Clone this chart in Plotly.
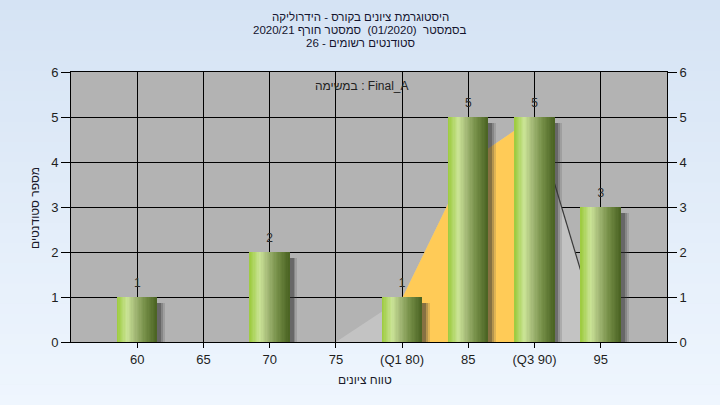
import plotly.graph_objects as go

# ---------------- data ----------------
tick_labels = ["60", "65", "70", "75", "(Q1 80)", "85", "(Q3 90)", "95"]
counts = [1, 0, 2, 0, 1, 5, 5, 3]
# distribution curve drawn behind the bars (categories 75..95)
curve_labels = ["75", "(Q1 80)", "85", "(Q3 90)", "95"]
curve_values = [0, 0.97, 4.0, 5.0, 0.1]
# inter-quartile part of the curve (Q1..Q3)
iqr_labels = ["(Q1 80)", "85", "(Q3 90)"]
iqr_values = [0.97, 4.0, 5.0]

title_lines = [
    "\u202bהיסטוגרמת ציונים בקורס - הידרוליקה\u202c",
    "\u202bבסמסטר  (01/2020)  סמסטר חורף 2020/21\u202c",
    "\u202bסטודנטים רשומים - 26\u202c",
]
subtitle = "במשימה : Final_A"
x_title = "טווח ציונים"
y_title = "מספר סטודנטים"

# ---------------- helpers ----------------
pos = {lab: i for i, lab in enumerate(tick_labels)}
xs = [pos[l] for l in tick_labels]
cx = [pos[l] for l in curve_labels]
ix = [pos[l] for l in iqr_labels]

FONT = "Liberation Sans, DejaVu Sans, Arial, sans-serif"
W, H = 720, 405
L, R, T, B = 71, 53, 72, 63
PW, PH = W - L - R, H - T - B


def hex2rgb(h):
    h = h.lstrip("#")
    return tuple(int(h[i:i + 2], 16) for i in (0, 2, 4))


def lerp_color(stops, t):
    for (t0, c0), (t1, c1) in zip(stops, stops[1:]):
        if t0 <= t <= t1:
            f = 0 if t1 == t0 else (t - t0) / (t1 - t0)
            a, b = hex2rgb(c0), hex2rgb(c1)
            return "rgb(%d,%d,%d)" % tuple(round(a[k] + (b[k] - a[k]) * f) for k in range(3))
    return stops[-1][1]


fig = go.Figure()

# background area curve (main subplot, under the bars)
fig.add_trace(go.Scatter(x=cx, y=curve_values, mode="lines", fill="tozeroy",
                         fillcolor="#c3c3c3", line=dict(width=0, color="#c3c3c3"),
                         hoverinfo="skip", showlegend=False))
fig.add_trace(go.Scatter(x=ix, y=iqr_values, mode="lines", fill="tozeroy",
                         fillcolor="#ffcb57", line=dict(width=0, color="#ffcb57"),
                         hoverinfo="skip", showlegend=False))
fig.add_trace(go.Scatter(x=cx[-2:], y=curve_values[-2:], mode="lines",
                         line=dict(width=1.2, color="#3a3a3a"),
                         hoverinfo="skip", showlegend=False))

# bars on overlaid axis (drawn above the curve)
BW = 0.6
shadow_counts = [max(c - 0.13, 0) for c in counts]
shadow_layers = [(0.12, "rgba(70,70,70,0.18)"), (0.09, "rgba(60,60,60,0.25)"),
                 (0.06, "rgba(45,45,45,0.35)")]
for off, col in shadow_layers:
    fig.add_trace(go.Bar(x=xs, y=shadow_counts, width=BW, offset=-BW / 2 + off,
                         marker=dict(color=col, line=dict(width=0)),
                         yaxis="y2", hoverinfo="skip", showlegend=False))

stops = [(0.0, "#9ccb3c"), (0.08, "#a9d257"), (0.26, "#cbe497"),
         (0.45, "#a5ba78"), (0.7, "#768f48"), (1.0, "#4a6322")]
N = 30
sw = BW / N
for k in range(N):
    t = (k + 0.5) / N
    fig.add_trace(go.Bar(x=xs, y=counts, width=sw * 1.15, offset=-BW / 2 + k * sw,
                         marker=dict(color=lerp_color(stops, t), line=dict(width=0)),
                         yaxis="y2", hoverinfo="skip", showlegend=False))

# value labels
fig.add_trace(go.Scatter(x=xs, y=counts, mode="markers+text",
                         marker=dict(size=10, opacity=0),
                         text=[str(c) if c else "" for c in counts],
                         textposition="top center",
                         textfont=dict(family=FONT, size=12, color="#2a2a2a"),
                         yaxis="y2", hoverinfo="skip", showlegend=False, cliponaxis=False))

# ---------------- background gradient ----------------
shapes = []
NB = 40
top_c, bot_c = "#d5e3f4", "#eff6fe"
y_lo, y_hi = -B / PH, 1 + T / PH
for k in range(NB):
    y0 = y_lo + (y_hi - y_lo) * k / NB
    y1 = y_lo + (y_hi - y_lo) * (k + 1) / NB + 0.002
    col = lerp_color([(0, bot_c), (1, top_c)], (k + 0.5) / NB)
    shapes.append(dict(type="rect", xref="paper", yref="paper", x0=-L / PW - 0.05,
                       x1=1 + R / PW + 0.05, y0=y0, y1=y1, layer="below",
                       line=dict(width=0), fillcolor=col))
shapes.append(dict(type="rect", xref="paper", yref="paper", x0=0, x1=1, y0=0, y1=1,
                   layer="below", line=dict(width=0), fillcolor="#b3b3b3"))

# ---------------- annotations ----------------
ann = []
for i, line in enumerate(title_lines):
    ypix = 17 + 13 * i
    ann.append(dict(text=line, xref="paper", yref="paper", x=(360 - L) / PW,
                    y=(H - B - ypix) / PH, showarrow=False, xanchor="center", yanchor="middle",
                    font=dict(family=FONT, size=11.5, color="#14142e")))
ann.append(dict(text=subtitle, xref="paper", yref="paper", x=(362 - L) / PW,
                y=(H - B - 86) / PH, showarrow=False, xanchor="center", yanchor="middle",
                font=dict(family=FONT, size=12, color="#222222")))
ann.append(dict(text=x_title, xref="paper", yref="paper", x=(365 - L) / PW,
                y=(H - B - 380) / PH, showarrow=False, xanchor="center", yanchor="middle",
                font=dict(family=FONT, size=12, color="#1a1a2a")))
ann.append(dict(text=y_title, xref="paper", yref="paper", x=(35 - L) / PW,
                y=(H - B - 208) / PH, showarrow=False, xanchor="center", yanchor="middle",
                textangle=-90, font=dict(family=FONT, size=12, color="#1a1a2a")))

axis_font = dict(family=FONT, size=13, color="#1e1e1e")
fig.update_layout(
    width=W, height=H,
    margin=dict(l=L, r=R, t=T, b=B),
    paper_bgcolor="#e2ecf8",
    plot_bgcolor="rgba(0,0,0,0)",
    barmode="overlay",
    bargap=0,
    showlegend=False,
    shapes=shapes,
    annotations=ann,
    xaxis=dict(range=[-1, len(tick_labels)], tickmode="array", tickvals=xs, ticktext=tick_labels,
               showgrid=True, gridcolor="#000000", gridwidth=1,
               showline=True, linecolor="#000000", linewidth=1, mirror=True,
               ticks="outside", ticklen=5, tickcolor="#000000",
               tickfont=axis_font, zeroline=False, fixedrange=True),
    yaxis=dict(range=[0, 6], dtick=1, tick0=0, showgrid=True, gridcolor="#000000", gridwidth=1,
               showline=True, linecolor="#000000", linewidth=1,
               ticks="outside", ticklen=9, tickcolor="#000000",
               tickfont=axis_font, zeroline=False, fixedrange=True),
    yaxis2=dict(range=[0, 6], dtick=1, tick0=0, overlaying="y", side="right",
                showgrid=False, showline=True, linecolor="#000000", linewidth=1,
                ticks="outside", ticklen=9, tickcolor="#000000",
                tickfont=axis_font, zeroline=False, fixedrange=True),
)

fig.write_html("out.html", config={"displayModeBar": False},
               post_script="document.body.style.margin='0';document.body.style.overflow='hidden';")
